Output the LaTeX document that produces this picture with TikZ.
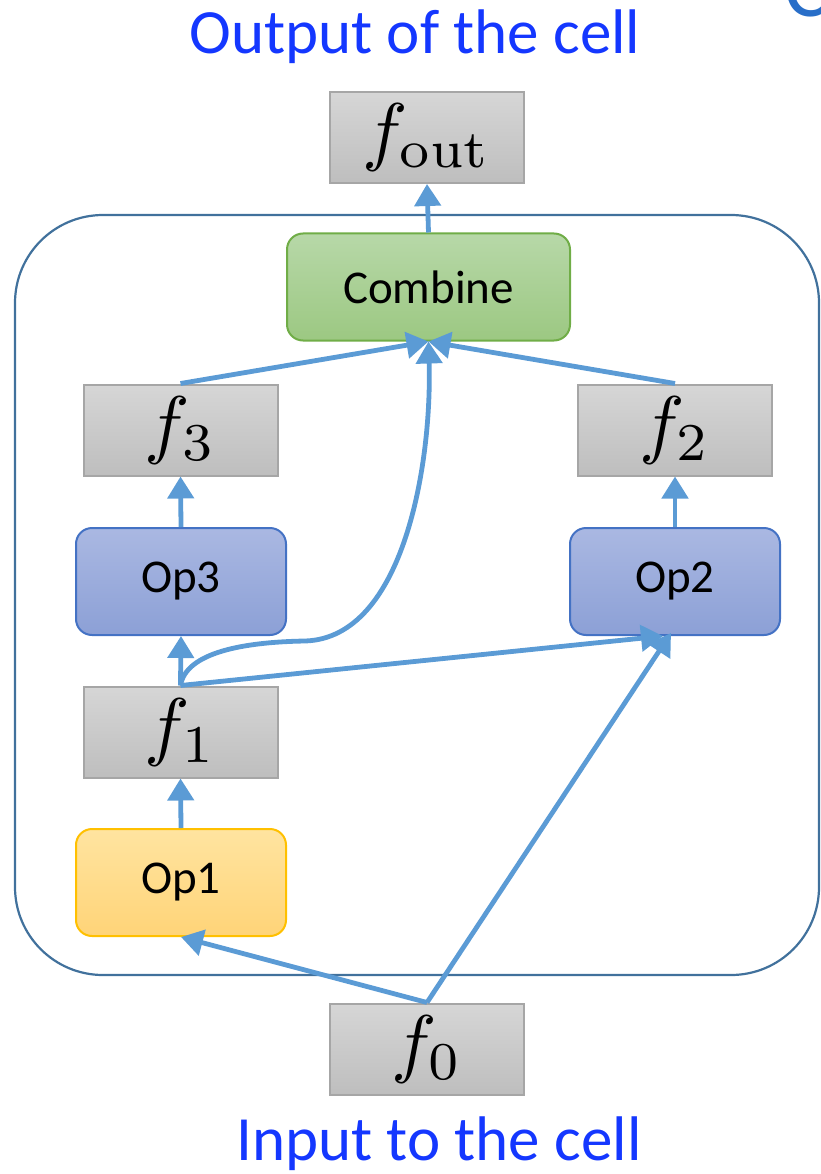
\documentclass[tikz,border=0pt]{standalone}
\usepackage{graphicx}
\usepackage[no-math]{fontspec}
\setmainfont{Carlito}
\usetikzlibrary{arrows.meta}
\definecolor{linkblue}{RGB}{91,155,213}
\definecolor{framecol}{RGB}{65,113,156}
\definecolor{titleblue}{RGB}{20,55,255}
\definecolor{cornerblue}{RGB}{40,110,200}
\definecolor{featborder}{RGB}{166,166,166}
\definecolor{feattop}{RGB}{214,214,214}
\definecolor{featbot}{RGB}{190,190,190}
\definecolor{combborder}{RGB}{112,173,71}
\definecolor{combtop}{RGB}{183,216,168}
\definecolor{combbot}{RGB}{156,200,130}
\definecolor{opborder}{RGB}{68,114,196}
\definecolor{optop}{RGB}{170,184,226}
\definecolor{opbot}{RGB}{140,160,214}
\definecolor{inborder}{RGB}{255,192,0}
\definecolor{intop}{RGB}{255,228,160}
\definecolor{inbot}{RGB}{255,212,120}
% feature-map symbol, set at 10pt and enlarged
\newcommand{\featsym}[1]{\scalebox{7.6}{$#1$}}
\tikzset{
  featbox/.style={draw=featborder, line width=2pt, top color=feattop, bottom color=featbot,
    minimum width=194pt, minimum height=91pt, inner sep=0pt},
  opbox/.style={rounded corners=16pt, line width=2pt, minimum width=210pt, minimum height=107pt,
    inner sep=0pt, font=\fontsize{47}{50}\selectfont},
  transform/.style={opbox, draw=opborder, top color=optop, bottom color=opbot},
  combinebox/.style={opbox, draw=combborder, top color=combtop, bottom color=combbot, minimum width=283pt},
  inputop/.style={opbox, draw=inborder, top color=intop, bottom color=inbot},
  cellframe/.style={draw=framecol, line width=2.2pt, rounded corners=88pt,
    minimum width=804pt, minimum height=760pt, inner sep=0pt},
  link/.style={draw=linkblue, line width=4.8pt, -{Triangle[width=26pt,length=22pt]}},
  caption/.style={text=titleblue, font=\fontsize{63}{70}\selectfont, inner sep=0pt, anchor=base}
}
\begin{document}
\begin{tikzpicture}[x=1pt,y=-1pt]
\useasboundingbox (0,0) rectangle (820,1174);

% cell outline
\node[cellframe] (cell) at (417,595) {};

% captions
\node[caption] (outcap) at (415,54) {Output of the cell};
\node[caption] (incap) at (439,1160) {Input to the cell};
\node[caption, anchor=base west, text=cornerblue, font=\fontsize{85}{90}\selectfont] (corner) at (784,17) {C};

% feature maps
\node[featbox] (fout) at (427,137.5) {\featsym{f_{\mathrm{out}}}};
\node[featbox] (f3) at (180.5,430) {\featsym{f_3}};
\node[featbox] (f2) at (675,430) {\featsym{f_2}};
\node[featbox] (f1) at (180.5,732) {\featsym{f_1}};
\node[featbox] (f0) at (427,1049) {\featsym{f_0}};

% operations
\node[combinebox] (comb) at (428.5,287) {Combine};
\node[transform] (op3) at (181,581.5) {Op3};
\node[transform] (op2) at (675,581.5) {Op2};
\node[inputop] (op1) at (181,882.5) {Op1};

% connections
\draw[link] (comb.north) -- (fout.south);
\draw[link] (f3.north) -- (comb.south);
\draw[link] (f2.north) -- (comb.south);
\draw[link] (f1.north) .. controls (186,652) and (245,642) .. (305,641)
  .. controls (405,638) and (432,460) .. (comb.south);
\draw[link] (op3.north) -- (f3.south);
\draw[link] (op2.north) -- (f2.south);
\draw[link] (f1.north) -- (op3.south);
\draw[link] (f1.north) -- ([xshift=-12pt]op2.south);
\draw[link] (f0.north) -- ([xshift=-4pt,yshift=3pt]op2.south);
\draw[link] (op1.north) -- (f1.south);
\draw[link] (f0.north) -- (op1.south);
\end{tikzpicture}
\end{document}
